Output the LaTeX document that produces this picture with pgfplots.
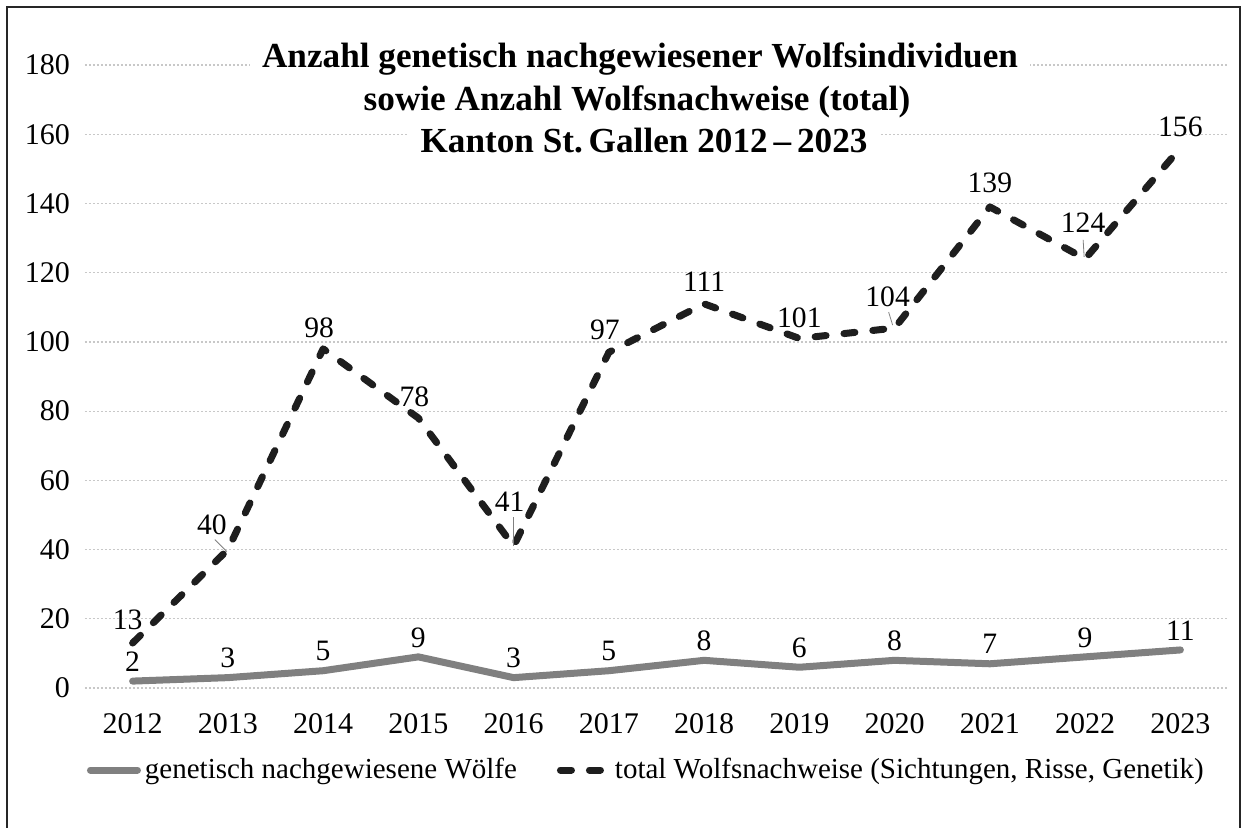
\documentclass[border=0pt]{standalone}
\usepackage{pgfplots}
\pgfplotsset{compat=1.18}
\usepackage{fontspec}
\setmainfont{Liberation Serif}
\definecolor{genegray}{RGB}{128,128,128}
\definecolor{totalblack}{RGB}{30,30,30}
\definecolor{gridgray}{RGB}{200,200,200}
\tikzset{lbl/.style={font=\fontsize{14.8}{17}\selectfont, inner sep=0pt}}
\begin{document}
\begin{tikzpicture}[x=1pt,y=1pt]
\useasboundingbox (0,0) rectangle (621,-413.5);
\begin{axis}[
  at={(42.5pt,-344pt)}, anchor=south west,
  scale only axis, width=571.5pt, height=311.5pt,
  xmin=-0.5, xmax=11.5, ymin=0, ymax=180,
  xtick={0,...,11},
  xticklabels={2012,2013,2014,2015,2016,2017,2018,2019,2020,2021,2022,2023},
  ytick={0,20,...,180},
  ymajorgrids,
  grid style={gridgray, line width=0.6pt, dash pattern=on 1.2pt off 0.8pt},
  axis line style={draw=none},
  major tick length=0pt,
  tick label style={font=\fontsize{15}{17}\selectfont},
  /pgf/number format/assume math mode=true,
  yticklabel style={xshift=-4pt},
  xticklabel style={yshift=-9pt},
  clip=false,
  legend columns=2,
  legend style={at={(0.492,-0.1316)}, anchor=center, draw=none, fill=none,
    font=\fontsize{14.5}{17}\selectfont,
    /tikz/every even column/.append style={column sep=18pt}},
  legend image code/.code={\draw[#1] (0pt,0pt) -- (23.5pt,0pt);},
]
\addplot[genegray, line width=3.5pt, line join=round, line cap=round]
  coordinates {(0,2)(1,3)(2,5)(3,9)(4,3)(5,5)(6,8)(7,6)(8,8)(9,7)(10,9)(11,11)};
\addlegendentry{genetisch nachgewiesene Wölfe}
\addplot[totalblack, line width=3.5pt, line cap=round, line join=round, dash pattern=on 5.5pt off 9pt]
  coordinates {(0,13)(1,40)(2,98)(3,78)(4,41)(5,97)(6,111)(7,101)(8,104)(9,139)(10,124)(11,156)};
\addlegendentry{total Wolfsnachweise (Sichtungen, Risse, Genetik)}
% gene labels
\node[lbl, yshift=9.75pt] at (axis cs:0,2) {2};
\node[lbl, yshift=9.75pt] at (axis cs:1,3) {3};
\node[lbl, yshift=9.75pt] at (axis cs:2,5) {5};
\node[lbl, yshift=9.75pt] at (axis cs:3,9) {9};
\node[lbl, yshift=9.75pt] at (axis cs:4,3) {3};
\node[lbl, yshift=9.75pt] at (axis cs:5,5) {5};
\node[lbl, yshift=9.75pt] at (axis cs:6,8) {8};
\node[lbl, yshift=9.75pt] at (axis cs:7,6) {6};
\node[lbl, yshift=9.75pt] at (axis cs:8,8) {8};
\node[lbl, yshift=9.75pt] at (axis cs:9,7) {7};
\node[lbl, yshift=9.75pt] at (axis cs:10,9) {9};
\node[lbl, yshift=9.75pt] at (axis cs:11,11) {11};
% total labels
\node[lbl, xshift=-2.5pt, yshift=11.5pt] at (axis cs:0,13) {13};
\node[lbl, xshift=-8pt, yshift=12.5pt] at (axis cs:1,40) {40};
\node[lbl, xshift=-2pt, yshift=10.5pt] at (axis cs:2,98) {98};
\node[lbl, xshift=-2pt, yshift=10.5pt] at (axis cs:3,78) {78};
\node[lbl, xshift=-2pt, yshift=22pt] at (axis cs:4,41) {41};
\node[lbl, xshift=-2pt, yshift=11pt] at (axis cs:5,97) {97};
\node[lbl, yshift=11pt] at (axis cs:6,111) {111};
\node[lbl, yshift=10.5pt] at (axis cs:7,101) {101};
\node[lbl, xshift=-3.5pt, yshift=15.5pt] at (axis cs:8,104) {104};
\node[lbl, yshift=12pt] at (axis cs:9,139) {139};
\node[lbl, xshift=-1pt, yshift=18pt] at (axis cs:10,124) {124};
\node[lbl, yshift=10.5pt] at (axis cs:11,156) {156};
% leader lines
\draw[gray, line width=0.4pt] ([xshift=-6.5pt,yshift=5pt]axis cs:1,40) -- ([xshift=-0.5pt,yshift=-1pt]axis cs:1,40);
\draw[gray, line width=0.4pt] ([yshift=14.5pt]axis cs:4,41) -- (axis cs:4,41);
\draw[gray, line width=0.4pt] ([xshift=-3pt,yshift=8pt]axis cs:8,104) -- ([xshift=-1pt,yshift=1.5pt]axis cs:8,104);
\draw[gray, line width=0.4pt] ([xshift=-1pt,yshift=9.5pt]axis cs:10,124) -- ([xshift=-0.5pt,yshift=1pt]axis cs:10,124);
\end{axis}
% title
\begin{scope}[every node/.style={anchor=base, fill=white, inner xsep=6pt, inner ysep=2pt, font=\fontsize{17.6}{20}\selectfont\bfseries}]
\node at (320,-33.5) {Anzahl genetisch nachgewiesener Wolfsindividuen};
\node at (318.5,-55) {sowie Anzahl Wolfsnachweise (total)};
\node at (322,-76) {Kanton St.\,Gallen 2012\,–\,2023};
\end{scope}
% frame
\draw[line width=1.2pt, black!85] (3.5,-3.5) rectangle (620,-440);
\end{tikzpicture}
\end{document}
